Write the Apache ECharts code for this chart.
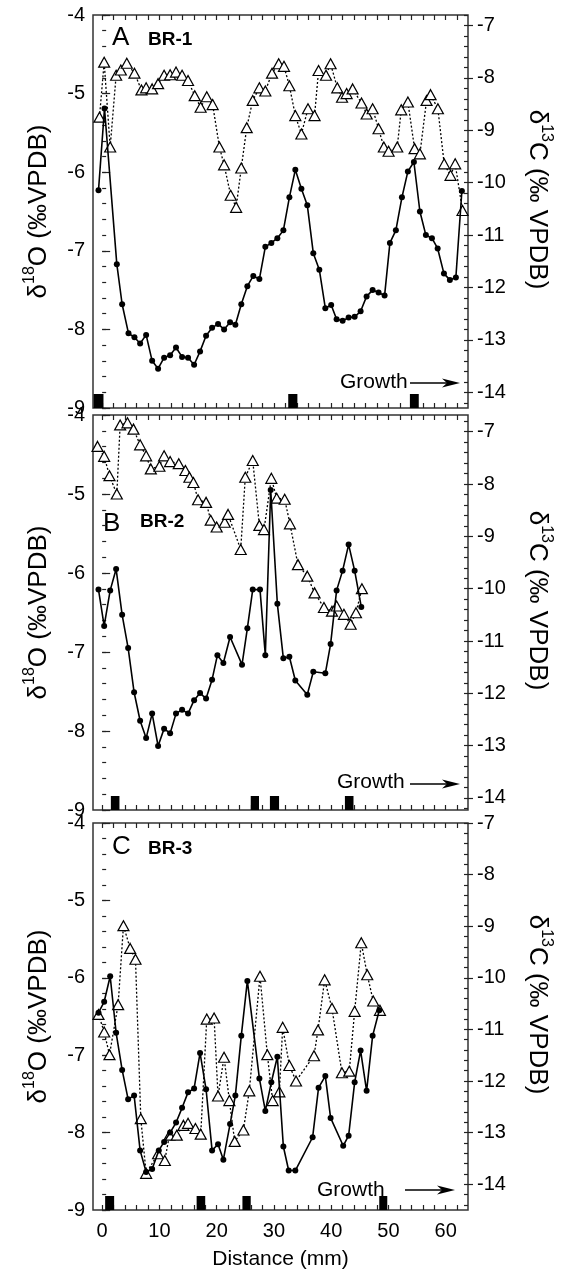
<!DOCTYPE html>
<html><head><meta charset="utf-8">
<script src="https://cdn.jsdelivr.net/npm/echarts@6/dist/echarts.min.js"></script>
<style>html,body{margin:0;padding:0;background:#fff}#c{width:562px;height:1271px}</style>
</head><body><div id="c"></div>
<script>
// ---------- DATA (distance mm, per mil VPDB) ----------
const br1_d18O = [[-0.64,-6.23],[0.41,-5.19],[2.56,-7.17],[3.49,-7.68],[4.6,-8.05],[5.64,-8.10],[6.63,-8.18],[7.68,-8.07],[8.73,-8.40],[9.77,-8.50],[10.82,-8.36],[11.87,-8.33],[12.9,-8.23],[13.96,-8.35],[15.0,-8.36],[16.06,-8.45],[17.1,-8.28],[18.15,-8.08],[19.2,-7.98],[20.24,-7.93],[21.3,-8.0],[22.34,-7.91],[23.27,-7.94],[24.3,-7.68],[25.36,-7.45],[26.4,-7.32],[27.46,-7.36],[28.5,-6.95],[29.55,-6.90],[30.6,-6.84],[31.65,-6.74],[32.7,-6.32],[33.74,-5.97],[34.8,-6.21],[35.83,-6.42],[36.88,-7.03],[37.93,-7.24],[38.98,-7.73],[40.0,-7.69],[40.95,-7.87],[42.0,-7.89],[43.05,-7.85],[44.1,-7.84],[45.14,-7.77],[46.19,-7.58],[47.24,-7.50],[48.28,-7.53],[49.33,-7.57],[50.26,-6.90],[51.3,-6.74],[52.36,-6.32],[53.4,-5.99],[54.45,-5.87],[55.5,-6.50],[56.54,-6.80],[57.6,-6.84],[58.6,-6.97],[59.7,-7.29],[60.73,-7.37],[61.78,-7.34],[62.83,-6.24]];
const br1_d13C = [[-0.47,-8.75],[0.35,-7.70],[1.4,-9.32],[2.44,-7.95],[3.26,-7.85],[4.3,-7.72],[5.64,-7.91],[6.86,-8.23],[7.68,-8.19],[8.73,-8.21],[9.77,-8.11],[10.82,-7.95],[11.87,-7.94],[12.9,-7.89],[13.96,-7.95],[15.0,-8.05],[16.17,-8.34],[17.2,-8.56],[18.27,-8.36],[19.3,-8.51],[20.48,-9.32],[21.3,-9.66],[22.45,-10.24],[23.4,-10.47],[24.3,-9.72],[25.25,-8.95],[26.3,-8.43],[27.46,-8.19],[28.5,-8.25],[29.67,-7.91],[30.83,-7.73],[31.76,-7.78],[32.7,-8.15],[33.74,-8.72],[34.8,-9.07],[35.95,-8.59],[37.1,-8.72],[37.8,-7.86],[39.1,-7.95],[39.9,-7.73],[41.07,-8.19],[41.9,-8.37],[42.7,-8.30],[43.75,-8.21],[45.3,-8.48],[46.2,-8.69],[47.24,-8.59],[48.28,-8.97],[49.2,-9.32],[50.03,-9.40],[51.54,-9.32],[52.24,-8.61],[53.4,-8.46],[54.57,-9.35],[55.5,-9.45],[56.66,-8.43],[57.36,-8.32],[58.64,-8.59],[59.74,-9.64],[60.85,-9.86],[61.66,-9.64],[62.94,-10.53]];
const br1_bands = [[-1.5,0.23],[32.5,34.1],[53.75,55.3]];

const br2_d18O = [[-0.64,-6.21],[0.35,-6.67],[1.4,-6.22],[2.44,-5.95],[3.49,-6.53],[4.54,-6.95],[5.58,-7.51],[6.63,-7.87],[7.68,-8.09],[8.73,-7.78],[9.77,-8.19],[10.82,-7.97],[11.87,-8.03],[12.9,-7.78],[13.96,-7.73],[15.0,-7.78],[16.06,-7.61],[17.1,-7.52],[18.15,-7.59],[19.2,-7.35],[20.13,-7.04],[21.17,-7.14],[22.34,-6.81],[24.43,-7.16],[25.36,-6.70],[26.3,-6.21],[27.57,-6.21],[28.5,-7.04],[29.44,-4.95],[30.6,-6.39],[31.65,-7.08],[32.7,-7.06],[33.74,-7.36],[35.83,-7.54],[36.88,-7.25],[38.98,-7.27],[39.9,-6.90],[40.95,-6.22],[42.0,-5.97],[43.05,-5.64],[44.1,-5.97],[45.26,-6.43]];
const br2_d13C = [[-0.81,-7.28],[0.35,-7.47],[1.28,-7.84],[2.56,-8.19],[3.14,-6.87],[4.42,-6.83],[5.47,-6.95],[6.63,-7.25],[7.68,-7.46],[8.5,-7.71],[10.0,-7.66],[10.82,-7.46],[11.87,-7.57],[13.38,-7.61],[14.54,-7.74],[15.24,-7.87],[15.94,-7.97],[16.75,-8.30],[18.15,-8.35],[18.96,-8.69],[20.0,-8.82],[21.4,-8.73],[21.99,-8.58],[24.2,-9.25],[25.0,-7.87],[26.3,-7.55],[27.46,-8.79],[28.27,-8.87],[29.55,-7.89],[30.48,-8.27],[31.88,-8.29],[32.8,-8.76],[34.2,-9.54],[35.83,-9.76],[37.1,-10.08],[38.74,-10.36],[40.14,-10.43],[40.95,-10.33],[42.23,-10.49],[43.4,-10.68],[44.33,-10.46],[45.37,-10.00]];
const br2_bands = [[1.52,3.02],[25.95,27.4],[29.3,30.9],[42.4,43.9]];

const br3_d18O = [[-0.64,-6.45],[0.35,-6.31],[1.4,-5.98],[2.44,-6.71],[3.49,-7.19],[4.54,-7.57],[5.58,-7.52],[6.63,-8.23],[7.68,-8.51],[8.73,-8.47],[9.89,-8.23],[10.82,-8.12],[11.87,-8.0],[12.91,-7.87],[13.96,-7.68],[15.0,-7.48],[16.06,-7.43],[17.1,-6.97],[18.15,-7.44],[19.2,-8.23],[20.24,-8.15],[21.17,-8.35],[22.34,-7.89],[23.27,-7.52],[24.3,-6.75],[25.36,-6.04],[27.46,-7.30],[28.5,-7.72],[29.55,-7.35],[30.6,-7.02],[31.65,-8.18],[32.58,-8.49],[33.74,-8.49],[36.76,-8.06],[37.8,-7.42],[38.98,-7.27],[39.9,-7.81],[42.1,-8.17],[43.05,-8.04],[44.1,-7.35],[45.14,-6.94],[46.19,-7.46],[47.24,-6.75],[48.4,-6.42]];
const br3_d13C = [[-0.64,-10.71],[0.35,-11.05],[1.28,-11.49],[2.79,-10.52],[3.72,-8.99],[4.89,-9.43],[5.82,-9.64],[6.75,-12.73],[7.68,-13.79],[9.77,-13.41],[10.94,-13.54],[11.75,-13.05],[13.03,-13.05],[14.19,-12.86],[15.0,-12.82],[16.29,-12.92],[17.22,-13.03],[18.27,-10.80],[19.55,-10.78],[20.24,-12.29],[21.29,-11.54],[22.22,-12.38],[23.15,-13.17],[24.67,-12.95],[25.7,-12.19],[27.57,-9.97],[28.85,-11.49],[29.78,-12.38],[30.95,-12.21],[31.53,-10.96],[32.7,-11.70],[33.86,-12.0],[37.0,-11.51],[37.7,-11.01],[38.86,-10.04],[40.14,-10.59],[41.88,-11.84],[43.16,-11.81],[44.1,-10.65],[45.26,-9.32],[46.3,-9.94],[47.35,-10.45],[48.52,-10.63]];
const br3_bands = [[0.52,2.09],[16.5,18.0],[24.5,25.95],[48.4,49.8]];

const xTickLabels = [0, 10, 20, 30, 40, 50, 60];
const d18OTickLabels = [-9, -8, -7, -6, -5, -4];
const d13CTickLabels = [-14, -13, -12, -11, -10, -9, -8, -7];
const panelLetters = ['A', 'B', 'C'];
const panelNames = ['BR-1', 'BR-2', 'BR-3'];
const xTitle = 'Distance (mm)';
const growthText = 'Growth';

// ---------- LAYOUT ----------
const FONT = "'Liberation Sans', Arial, Helvetica, sans-serif";
const X_MIN = -1.6, X_MAX = 63.9;
const panels = [
  { top: 15,  height: 393, cMin: -14.3,  cMax: -6.8,  o: br1_d18O, c: br1_d13C, b: br1_bands },
  { top: 415, height: 395, cMin: -14.23, cMax: -6.68, o: br2_d18O, c: br2_d13C, b: br2_bands },
  { top: 823, height: 394, cMin: -14.5,  cMax: -7.0,  o: br3_d18O, c: br3_d13C, b: br3_bands }
];
const step = (a, b, s) => { const r = []; for (let v = a; v <= b + 1e-9; v += s) r.push(Math.round(v * 100) / 100); return r; };
const xTicks = step(0, 62, 2);
const oMinor = step(-9, -4, 0.2);

const tickLine = { color: '#222', width: 1.2 };
const labelStyle = { fontFamily: FONT, fontSize: 20, color: '#000' };
const nameRich = (fs) => ({
  t: { fontFamily: FONT, fontSize: fs, color: '#000', lineHeight: 30, verticalAlign: 'bottom' },
  s: { fontFamily: FONT, fontSize: 16, color: '#000', lineHeight: 16, verticalAlign: 'top' }
});

const grid = [], xAxis = [], yAxis = [], series = [], graphic = [];
panels.forEach((p, i) => {
  grid.push({ left: 93, top: p.top, width: 375, height: p.height, show: true,
    borderColor: '#333', borderWidth: 1.5, backgroundColor: 'transparent' });
  const isLast = i === panels.length - 1;
  ['bottom', 'top'].forEach(pos => {
    xAxis.push({
      type: 'value', gridIndex: i, min: X_MIN, max: X_MAX, position: pos,
      axisLine: { show: false }, splitLine: { show: false },
      axisTick: { show: true, inside: true, length: 5, customValues: xTicks, lineStyle: tickLine },
      axisLabel: { show: isLast && pos === 'bottom', customValues: xTickLabels, margin: 11, ...labelStyle },
      name: isLast && pos === 'bottom' ? xTitle : '', nameLocation: 'middle', nameGap: 39,
      nameTextStyle: { fontFamily: FONT, fontSize: 21, color: '#000' }
    });
  });
  const cMinor = step(Math.ceil(p.cMin * 5 - 1e-9) / 5, p.cMax, 0.2);
  yAxis.push({
    type: 'value', gridIndex: i, min: -9, max: -4, position: 'left',
    axisLine: { show: false }, splitLine: { show: false },
    axisTick: { show: true, inside: true, length: 8, customValues: d18OTickLabels, lineStyle: tickLine },
    axisLabel: { customValues: d18OTickLabels, margin: 8, ...labelStyle },
    name: '{t|δ}{s|18}{t|O (‰VPDB)}', nameLocation: 'middle', nameRotate: 90, nameGap: 41,
    nameTextStyle: { rich: nameRich(26) }
  });
  yAxis.push({
    type: 'value', gridIndex: i, min: -9, max: -4, position: 'left',
    axisLine: { show: false }, splitLine: { show: false },
    axisTick: { show: true, inside: true, length: 4, customValues: oMinor, lineStyle: tickLine },
    axisLabel: { show: false }
  });
  yAxis.push({
    type: 'value', gridIndex: i, min: p.cMin, max: p.cMax, position: 'right',
    axisLine: { show: false }, splitLine: { show: false },
    axisTick: { show: true, inside: false, length: 5, customValues: d13CTickLabels, lineStyle: tickLine },
    axisLabel: { customValues: d13CTickLabels, margin: 9, ...labelStyle },
    name: '{t|δ}{s|13}{t|C (‰ VPDB)}', nameLocation: 'middle', nameRotate: -90, nameGap: 56,
    nameTextStyle: { rich: nameRich(26), padding: [0, 24, 0, 0] }
  });
  yAxis.push({
    type: 'value', gridIndex: i, min: p.cMin, max: p.cMax, position: 'right',
    axisLine: { show: false }, splitLine: { show: false },
    axisTick: { show: true, inside: true, length: 4, customValues: cMinor, lineStyle: tickLine },
    axisLabel: { show: false }
  });

  series.push({
    type: 'line', xAxisIndex: 2 * i, yAxisIndex: 4 * i + 2, data: p.c, z: 3,
    symbol: 'triangle', symbolSize: [11, 10], showAllSymbol: true,
    lineStyle: { color: '#000', width: 1.3, type: [2, 2] },
    itemStyle: { color: '#fff', borderColor: '#000', borderWidth: 1.2 },
    animation: false, silent: true
  });
  series.push({
    type: 'line', xAxisIndex: 2 * i, yAxisIndex: 4 * i, data: p.o, z: 4,
    symbol: 'circle', symbolSize: 6, showAllSymbol: true,
    lineStyle: { color: '#000', width: 1.6 },
    itemStyle: { color: '#000' },
    animation: false, silent: true
  });
  series.push({
    type: 'custom', xAxisIndex: 2 * i, yAxisIndex: 4 * i, data: p.b, z: 5,
    encode: { x: [0, 1] }, silent: true, animation: false,
    renderItem: (params, api) => {
      const a = api.coord([api.value(0), -9]);
      const b = api.coord([api.value(1), -9]);
      return { type: 'rect', shape: { x: a[0], y: a[1] - 14, width: b[0] - a[0], height: 14 }, style: { fill: '#000' } };
    }
  });
});

// panel labels & growth arrows
const letterPos = [[112, 38, 148, 40], [103, 524, 140, 522], [112, 847, 148, 849]];
const growthPos = [[340, 382, 410, 460, 383], [337, 782, 410, 460, 784], [317, 1190, 405, 455, 1190]];
letterPos.forEach((lp, i) => {
  graphic.push({ type: 'text', style: { text: panelLetters[i], x: lp[0], y: lp[1], font: `26px ${FONT}`, fill: '#000', verticalAlign: 'middle' } });
  graphic.push({ type: 'text', style: { text: panelNames[i], x: lp[2], y: lp[3], font: `bold 19px ${FONT}`, fill: '#000', verticalAlign: 'middle' } });
  const g = growthPos[i];
  graphic.push({ type: 'text', style: { text: growthText, x: g[0], y: g[1], font: `21px ${FONT}`, fill: '#000', verticalAlign: 'middle' } });
  graphic.push({ type: 'line', shape: { x1: g[2], y1: g[4], x2: g[3] - 8, y2: g[4] }, style: { stroke: '#000', lineWidth: 1.3 } });
  graphic.push({ type: 'polygon', shape: { points: [[g[3], g[4]], [g[3] - 18, g[4] - 4.5], [g[3] - 13, g[4]], [g[3] - 18, g[4] + 4.5]] }, style: { fill: '#000' } });
});

const chart = echarts.init(document.getElementById('c'), null, { renderer: 'canvas' });
chart.setOption({ animation: false, backgroundColor: '#fff', grid, xAxis, yAxis, series, graphic });
</script>
</body></html>
